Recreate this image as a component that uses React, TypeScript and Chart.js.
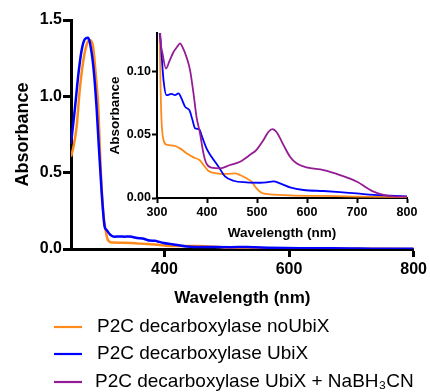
import { useEffect, useRef } from "react";
import { Chart, registerables } from "chart.js";
Chart.register(...registerables);

const FONT = "'Liberation Sans', Arial, sans-serif";

const seriesLabels = [
  "P2C decarboxylase noUbiX",
  "P2C decarboxylase UbiX",
  "P2C decarboxylase UbiX + NaBH₃CN",
];
const seriesColors = ["#FF8A1C", "#0000FF", "#941C94"];

const orangeWl = [250, 254, 259, 264, 270, 275, 280, 285, 290, 294, 296, 299, 303, 305, 307, 309, 313, 319, 333, 346, 359, 373, 385, 393, 403, 419, 439, 456, 466, 479, 489, 499, 509, 519, 566, 633, 699, 800];
const orangeAbs = [0.605, 0.67, 0.8, 1.04, 1.24, 1.336, 1.369, 1.336, 1.13, 0.91, 0.69, 0.41, 0.19, 0.14, 0.09, 0.0614, 0.0457, 0.042, 0.0412, 0.0391, 0.0352, 0.032, 0.0299, 0.026, 0.0213, 0.0194, 0.019, 0.0194, 0.0181, 0.0155, 0.0129, 0.0076, 0.0042, 0.0032, 0.0021, 0.0016, 0.0011, 0.0008];

const blueWl = [250, 256, 262, 267, 272, 277, 280, 286, 291, 295, 299, 304, 307, 313, 319, 329, 336, 343, 349, 356, 365, 371, 376, 385, 389, 399, 409, 423, 436, 453, 479, 506, 519, 533, 546, 566, 593, 633, 666, 699, 733, 766, 800];
const blueAbs = [0.69, 0.91, 1.15, 1.3, 1.373, 1.384, 1.357, 1.19, 0.93, 0.65, 0.386, 0.146, 0.125, 0.093, 0.081, 0.082, 0.081, 0.0824, 0.0785, 0.072, 0.069, 0.0614, 0.055, 0.054, 0.0496, 0.0391, 0.0325, 0.0247, 0.017, 0.0136, 0.0123, 0.012, 0.0123, 0.0131, 0.0115, 0.0084, 0.0063, 0.0055, 0.0047, 0.0037, 0.0024, 0.0019, 0.0013];

const purpleWl = [300, 304, 307, 311, 318, 325, 333, 340, 346, 352, 359, 366, 373, 379, 386, 393, 399, 409, 426, 446, 466, 486, 499, 513, 523, 531, 539, 553, 566, 579, 599, 633, 666, 699, 733, 753, 773, 800];
const purpleAbs = [0.25, 0.16, 0.125, 0.114, 0.102, 0.108, 0.115, 0.119, 0.1218, 0.118, 0.111, 0.101, 0.0824, 0.064, 0.051, 0.035, 0.027, 0.0239, 0.0234, 0.026, 0.0286, 0.034, 0.038, 0.0457, 0.0522, 0.0543, 0.052, 0.0417, 0.0325, 0.0273, 0.0241, 0.022, 0.0181, 0.013, 0.005, 0.0024, 0.0013, 0.0011];

const mainXTicks = [400, 600, 800];
const mainYTicks = [0, 0.5, 1.0, 1.5];
const insetXTicks = [300, 400, 500, 600, 700, 800];
const insetYTicks = [0, 0.05, 0.1];

const pts = (xs: number[], ys: number[]) => xs.map((x, i) => ({ x, y: ys[i] }));

const legendPlugin = {
  id: "customLegend",
  afterDraw(chart: any) {
    const ctx = chart.ctx;
    ctx.save();
    const rows = [327, 354, 382];
    seriesLabels.forEach((label, i) => {
      const y = rows[i];
      ctx.strokeStyle = seriesColors[i];
      ctx.lineWidth = 2.2;
      ctx.beginPath();
      ctx.moveTo(54, y);
      ctx.lineTo(82, y);
      ctx.stroke();
      ctx.fillStyle = "#000";
      ctx.font = `19px ${FONT}`;
      ctx.textBaseline = "middle";
      ctx.textAlign = "left";
      ctx.fillText(label, i === 2 ? 95 : 97, y);
    });
    ctx.restore();
  },
};

export default function App() {
  const mainRef = useRef<HTMLCanvasElement>(null);
  const insetRef = useRef<HTMLCanvasElement>(null);

  useEffect(() => {
    const main = new Chart(mainRef.current!, {
      type: "line",
      data: {
        datasets: [
          { label: seriesLabels[1], data: pts(blueWl, blueAbs), borderColor: seriesColors[1], borderWidth: 2.5, pointRadius: 0, cubicInterpolationMode: "monotone", fill: false },
          { label: seriesLabels[0], data: pts(orangeWl, orangeAbs), borderColor: seriesColors[0], borderWidth: 2.5, pointRadius: 0, cubicInterpolationMode: "monotone", fill: false },
        ],
      },
      options: {
        responsive: false,
        animation: false,
        layout: { padding: { left: 8, top: 20, right: 15, bottom: 83 } },
        plugins: { legend: { display: false }, tooltip: { enabled: false } },
        scales: {
          x: {
            type: "linear",
            min: 250,
            max: 800,
            afterBuildTicks: (s: any) => { s.ticks = mainXTicks.map((v) => ({ value: v })); },
            afterFit: (s: any) => { s.height = 60; },
            grid: { drawOnChartArea: false, tickLength: 8, tickWidth: 3, color: "#000" },
            border: { color: "#000", width: 3 },
            ticks: { color: "#000", font: { family: FONT, size: 16, weight: "bold" }, padding: 3, maxRotation: 0 },
            title: { display: true, text: "Wavelength (nm)", color: "#000", font: { family: FONT, size: 17, weight: "bold" }, padding: { top: 0, bottom: 0 } },
          },
          y: {
            type: "linear",
            min: 0,
            max: 1.5,
            afterBuildTicks: (s: any) => { s.ticks = mainYTicks.map((v) => ({ value: v })); },
            afterFit: (s: any) => { s.width = 63; },
            grid: { drawOnChartArea: false, tickLength: 8, tickWidth: 3, color: "#000" },
            border: { color: "#000", width: 3 },
            ticks: { color: "#000", font: { family: FONT, size: 16, weight: "bold" }, padding: 1, callback: (v: any) => Number(v).toFixed(1) },
            title: { display: true, text: "Absorbance", color: "#000", font: { family: FONT, size: 18, weight: "bold" }, padding: { top: 4, bottom: 0 } },
          },
        },
      } as any,
      plugins: [legendPlugin],
    });

    const inset = new Chart(insetRef.current!, {
      type: "line",
      data: {
        datasets: [
          { label: seriesLabels[2], data: pts(purpleWl, purpleAbs), borderColor: seriesColors[2], borderWidth: 1.8, pointRadius: 0, cubicInterpolationMode: "monotone", fill: false },
          { label: seriesLabels[1], data: pts(blueWl, blueAbs), borderColor: seriesColors[1], borderWidth: 1.8, pointRadius: 0, cubicInterpolationMode: "monotone", fill: false },
          { label: seriesLabels[0], data: pts(orangeWl, orangeAbs), borderColor: seriesColors[0], borderWidth: 1.8, pointRadius: 0, cubicInterpolationMode: "monotone", fill: false },
        ],
      },
      options: {
        responsive: false,
        animation: false,
        layout: { padding: { left: 107, top: 33, right: 23, bottom: 151 } },
        plugins: { legend: { display: false }, tooltip: { enabled: false } },
        scales: {
          x: {
            type: "linear",
            min: 300,
            max: 800,
            afterBuildTicks: (s: any) => { s.ticks = insetXTicks.map((v) => ({ value: v })); },
            afterFit: (s: any) => { s.height = 43; },
            grid: { drawOnChartArea: false, tickLength: 5, tickWidth: 2, color: "#000" },
            border: { color: "#000", width: 2 },
            ticks: { color: "#000", font: { family: FONT, size: 12.5, weight: "bold" }, padding: 2, maxRotation: 0 },
            title: { display: true, text: "Wavelength (nm)", color: "#000", font: { family: FONT, size: 13.5, weight: "bold" }, padding: { top: 0, bottom: 0 } },
          },
          y: {
            type: "linear",
            min: 0,
            max: 0.13,
            afterBuildTicks: (s: any) => { s.ticks = insetYTicks.map((v) => ({ value: v })); },
            afterFit: (s: any) => { s.width = 50; },
            grid: { drawOnChartArea: false, tickLength: 5, tickWidth: 2, color: "#000" },
            border: { color: "#000", width: 2 },
            ticks: { color: "#000", font: { family: FONT, size: 12.5, weight: "bold" }, padding: 1, callback: (v: any) => Number(v).toFixed(2) },
            title: { display: true, text: "Absorbance", color: "#000", font: { family: FONT, size: 13.5, weight: "bold" }, padding: { top: 0, bottom: 0 } },
          },
        },
      } as any,
    });

    return () => {
      main.destroy();
      inset.destroy();
    };
  }, []);

  return (
    <div style={{ position: "fixed", left: 0, top: 0, width: 430, height: 392, background: "#fff" }}>
      <canvas ref={mainRef} width={430} height={392} style={{ position: "absolute", left: 0, top: 0 }} />
      <canvas ref={insetRef} width={430} height={392} style={{ position: "absolute", left: 0, top: 0 }} />
    </div>
  );
}
